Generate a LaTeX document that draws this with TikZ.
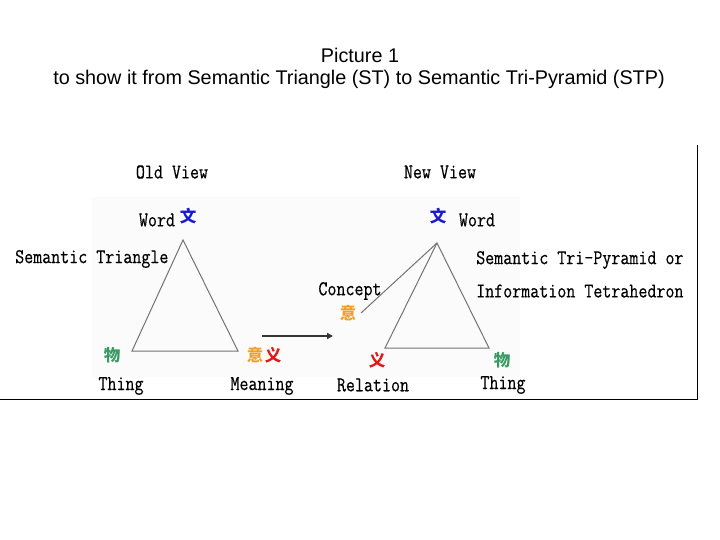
\documentclass[tikz,border=0pt]{standalone}
\usepackage{fontspec}
\usepackage{graphicx}
\setmainfont{Liberation Sans}
\setmonofont[FakeBold=0.5]{Latin Modern Mono}
\newfontfamily\cjkf{Noto Sans CJK SC}
\usetikzlibrary{arrows.meta}
\definecolor{wblue}{HTML}{1A1ACC}
\definecolor{tgreen}{HTML}{3A9A62}
\definecolor{morange}{HTML}{F0A028}
\definecolor{rred}{HTML}{E01818}
\newcommand{\tall}[1]{\scalebox{1}[1.2]{#1}}
\tikzset{
  lbl/.style={inner sep=0pt, font=\ttfamily\fontsize{17.5}{19}\selectfont},
  cjk/.style={inner sep=0pt, font=\cjkf\bfseries\fontsize{16.5}{18}\selectfont},
  titl/.style={inner sep=0pt, font=\fontsize{19.8}{22}\selectfont},
  tri/.style={draw=black!55, line width=1pt},
  frame/.style={draw=black, line width=1pt}
}
\begin{document}
\begin{tikzpicture}[x=1pt,y=-1pt]
\useasboundingbox (0,0) rectangle (720,540);
\fill[white!98.5!black] (92,197) rectangle (520,377);
% title
\node[titl] (t1) at (360,55) {Picture 1};
\node[titl] (t2) at (359,79) {to show it from Semantic Triangle (ST) to Semantic Tri-Pyramid (STP)};
% frame
\coordinate (f0) at (0,399);
\coordinate (f1) at (697,399);
\coordinate (f2) at (697,145);
\draw[frame] (f0) -- (f1) -- (f2);
% left triangle
\coordinate (la) at (183,240);
\coordinate (lb) at (132,351);
\coordinate (lc) at (238,351);
\draw[tri] (la) -- (lb) -- (lc) -- cycle;
\node[lbl] (oldv) at (172,172) {\tall{Old View}};
\node[lbl] (lword) at (157,220) {\tall{Word}};
\node[cjk, text=wblue] (lwen) at (188,216) {文};
\node[lbl, anchor=west] (st) at (15,259) {\tall{Semantic Triangle}};
\node[cjk, text=tgreen] (lwu) at (112,355) {物};
\node[lbl] (lthing) at (121,386) {\tall{Thing}};
\node[cjk, text=morange] (lyi) at (255,355) {意};
\node[cjk, text=rred] (lyi2) at (273,355) {义};
\node[lbl] (mean) at (262,386) {\tall{Meaning}};
% arrow
\coordinate (a0) at (262,336);
\coordinate (a1) at (333,336);
\draw[line width=1.3pt, black!80, -{Triangle[length=6pt,width=6pt]}] (a0) -- (a1);
% right triangle
\coordinate (ra) at (437,243);
\coordinate (rb) at (385,348);
\coordinate (rc) at (489,348);
\coordinate (rd) at (361,313);
\draw[tri] (ra) -- (rb) -- (rc) -- cycle;
\draw[tri] (ra) -- (rd);
\node[lbl] (newv) at (440,172) {\tall{New View}};
\node[cjk, text=wblue] (rwen) at (438,216) {文};
\node[lbl] (rword) at (477,220) {\tall{Word}};
\node[lbl] (conc) at (350,291) {\tall{Concept}};
\node[cjk, text=morange] (ryi) at (348,313) {意};
\node[cjk, text=rred] (ryi2) at (377,360) {义};
\node[lbl] (rel) at (373,385) {\tall{Relation}};
\node[cjk, text=tgreen] (rwu) at (502,360) {物};
\node[lbl] (rthing) at (503,385) {\tall{Thing}};
\node[lbl, anchor=west] (stp1) at (476,260) {\tall{Semantic Tri-Pyramid or}};
\node[lbl, anchor=west] (stp2) at (476,291) {\tall{Information Tetrahedron}};
\end{tikzpicture}
\end{document}
